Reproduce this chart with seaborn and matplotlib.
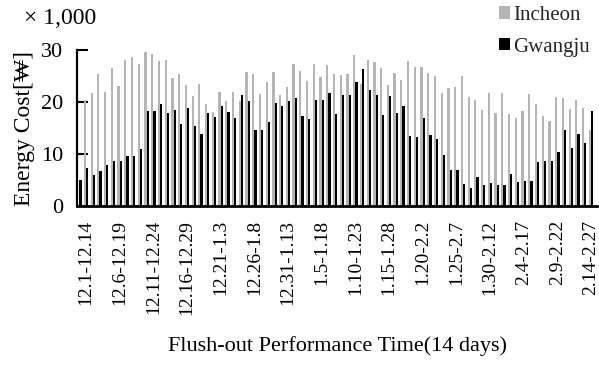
import numpy as np
import pandas as pd
import matplotlib
matplotlib.use("Agg")
import matplotlib.pyplot as plt
import seaborn as sns
from matplotlib.patches import Patch

# ---- data (x 1,000 won) ----
period_starts = pd.date_range("2016-11-30", periods=77, freq="D")
categories = [f"{d.month}.{d.day}-{(d + pd.Timedelta(days=13)).month}.{(d + pd.Timedelta(days=13)).day}"
              for d in period_starts]

incheon = [0.0, 20.4, 21.7, 25.3, 22.0, 26.5, 23.1, 28.1, 28.7, 27.3,
           29.6, 29.2, 27.9, 28.1, 24.6, 25.3, 23.3, 21.2, 23.5, 19.7,
           18.1, 22.0, 20.1, 22.0, 20.1, 25.8, 25.4, 21.5, 23.9, 25.8,
           21.4, 22.9, 27.3, 26.0, 24.0, 27.3, 24.9, 27.1, 25.3, 25.1,
           25.4, 29.0, 23.5, 28.1, 27.7, 26.5, 23.3, 25.6, 24.2, 27.9,
           26.8, 26.8, 25.6, 25.0, 21.8, 22.7, 22.8, 25.0, 21.0, 20.4,
           18.5, 21.8, 17.9, 21.8, 17.6, 16.9, 18.2, 21.5, 19.7, 17.4,
           16.3, 21.0, 20.7, 18.7, 20.4, 18.9, 14.6]

gwangju = [5.0, 7.4, 6.0, 6.7, 7.9, 8.6, 8.7, 9.6, 9.6, 11.0,
           18.3, 18.2, 19.6, 17.9, 18.5, 15.7, 18.9, 15.4, 13.9, 17.8,
           17.2, 19.2, 18.1, 17.0, 21.3, 20.1, 14.6, 14.6, 16.1, 19.9,
           19.3, 20.1, 20.7, 17.4, 16.8, 20.3, 20.4, 21.8, 17.6, 21.3,
           21.4, 23.8, 26.3, 22.4, 21.3, 17.5, 21.2, 17.8, 19.2, 13.5,
           13.2, 16.9, 13.6, 12.8, 9.8, 6.9, 6.9, 4.2, 3.4, 5.6,
           4.1, 4.5, 4.1, 4.0, 6.2, 4.6, 4.8, 4.9, 8.5, 8.6,
           8.6, 10.3, 14.7, 11.2, 13.9, 12.2, 18.3]

tick_labels = ["12.1-12.14", "12.6-12.19", "12.11-12.24", "12.16-12.29",
               "12.21-1.3", "12.26-1.8", "12.31-1.13", "1.5-1.18",
               "1.10-1.23", "1.15-1.28", "1.20-2.2", "1.25-2.7",
               "1.30-2.12", "2.4-2.17", "2.9-2.22", "2.14-2.27"]
series_names = ["Incheon", "Gwangju"]
colors = ["#b5b5b5", "#000000"]

df = pd.DataFrame({
    "period": categories * 2,
    "city": [series_names[0]] * len(categories) + [series_names[1]] * len(categories),
    "cost": incheon + gwangju,
})

sns.set_theme(style="white")
plt.rcParams["font.family"] = ["Liberation Serif", "DejaVu Serif"]

fig = plt.figure(figsize=(5.99, 3.87), dpi=100)
ax = fig.add_axes([77 / 599, 1 - 206 / 387, 520 / 599, 156 / 387])

sns.barplot(data=df, x="period", y="cost", hue="city", order=categories,
            hue_order=series_names, palette=colors, width=0.66,
            linewidth=0, saturation=1, errorbar=None, legend=False, ax=ax)

ax.set_ylim(0, 30)
ax.set_yticks([0, 10, 20, 30])
ax.set_xlim(-0.34, 76.9)
tick_pos = [1 + 5 * k for k in range(len(tick_labels))]
ax.set_xticks(tick_pos)
ax.set_xticklabels(tick_labels, rotation=90, fontsize=14)
ax.tick_params(axis="x", length=0, pad=10)
ax.tick_params(axis="y", direction="in", length=8, width=1.5, color="black",
               labelsize=16, pad=10, left=True)
for lab in ax.get_yticklabels():
    lab.set_color("black")
for lab in ax.get_xticklabels():
    lab.set_color("black")

for s in ["top", "right"]:
    ax.spines[s].set_visible(False)
ax.spines["left"].set_color("black")
ax.spines["left"].set_linewidth(1.6)
ax.spines["bottom"].set_color("black")
ax.spines["bottom"].set_linewidth(2.0)
ax.grid(False)

ax.set_xlabel("Flush-out Performance Time(14 days)", fontsize=16, color="black", labelpad=15)
ax.set_ylabel("Energy Cost[\u20a9]", fontsize=17, color="black", labelpad=4)
fig.text(60 / 599, 1 - 18 / 387, "\u00d7 1,000", fontsize=17, ha="center", va="center", color="black")

handles = [Patch(facecolor=c, edgecolor="none") for c in colors]
fig.legend(handles, series_names, loc="upper left", bbox_to_anchor=(484 / 599, 1.022),
           frameon=False, fontsize=15, handlelength=0.55, handleheight=0.55,
           handletextpad=0.15, labelspacing=0.6, borderpad=0.2)

fig.savefig("out.png", dpi=100)
